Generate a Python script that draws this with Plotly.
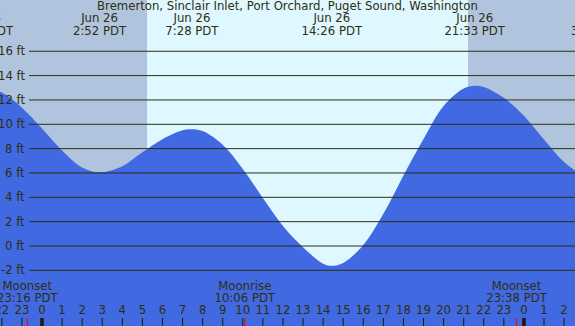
import plotly.graph_objects as go

# ---------------- data ----------------
title_text = "Bremerton, Sinclair Inlet, Port Orchard, Puget Sound, Washington"

tide_hours = [-3, -2, -1, 0, 1, 2, 2.867, 4, 5, 6, 7, 7.467, 8, 9, 10, 11, 12, 13, 14,
              14.433, 15, 16, 17, 18, 19, 20, 21, 21.55, 22, 23, 24, 25, 26, 27]
tide_feet = [12.98, 12.62, 11.37, 9.65, 7.85, 6.44, 6.05, 6.56, 7.70, 8.78, 9.51, 9.60, 9.44,
             8.31, 6.32, 3.95, 1.65, -0.10, -1.45, -1.62, -1.39, 0.08, 2.64, 5.80, 8.80,
             11.51, 12.95, 13.17, 13.07, 12.18, 10.70, 8.75, 6.90, 5.70]

extreme_hours = [-2.95, 2.867, 7.467, 14.433, 21.55, 27.67]
extreme_dates = ["Jun 25", "Jun 26", "Jun 26", "Jun 26", "Jun 26", "Jun 27"]
extreme_times = ["21:03 PDT", "2:52 PDT", "7:28 PDT", "14:26 PDT", "21:33 PDT", "3:40 PDT"]

moon_hours = [-0.733, 10.1, 23.633]
moon_events = ["Moonset", "Moonrise", "Moonset"]
moon_times = ["23:16 PDT", "10:06 PDT", "23:38 PDT"]

sunrise_hour = 5.233
sunset_hour = 21.217

hour_ticks = list(range(-2, 27))
hour_labels = [str(h % 24) for h in hour_ticks]
midnight_hours = [0, 24]

level_ticks = [-2, 0, 2, 4, 6, 8, 10, 12, 14, 16]
level_labels = [f"{v} ft" for v in level_ticks]

# ---------------- layout constants ----------------
W, H = 575, 326
X_RANGE = [-2.0916, 26.544]
Y_RANGE = [-6.574, 20.214]
NIGHT = "#B0C4DE"
DAY = "#DFF7FF"
FILL = "#4169E1"
INK = "#2e2e10"
FONT = "DejaVu Sans"
FSIZE = 11.7


def ypix(p):
    # vertical pixel row (from top) -> data value on the y axis
    return Y_RANGE[1] - p * (Y_RANGE[1] - Y_RANGE[0]) / H


fig = go.Figure()

# base for the fill
fig.add_trace(go.Scatter(x=[X_RANGE[0] - 2, X_RANGE[1] + 2], y=[Y_RANGE[0] - 5] * 2,
                         mode="lines", line=dict(width=0), hoverinfo="skip", showlegend=False))
fig.add_trace(go.Scatter(x=tide_hours, y=tide_feet, mode="lines",
                         line=dict(width=0, color=FILL, shape="spline", smoothing=1),
                         fill="tonexty", fillcolor=FILL, hoverinfo="skip", showlegend=False))

tfont = dict(family=FONT, size=FSIZE, color=INK)

# title
fig.add_trace(go.Scatter(x=[(X_RANGE[0] + X_RANGE[1]) / 2], y=[ypix(7.5)], mode="text",
                         text=[title_text], textfont=tfont, textposition="middle center",
                         hoverinfo="skip", showlegend=False))
# extreme labels
fig.add_trace(go.Scatter(x=extreme_hours, y=[ypix(19.5)] * len(extreme_hours), mode="text",
                         text=extreme_dates, textfont=tfont, textposition="middle center",
                         hoverinfo="skip", showlegend=False))
fig.add_trace(go.Scatter(x=extreme_hours, y=[ypix(32)] * len(extreme_hours), mode="text",
                         text=extreme_times, textfont=tfont, textposition="middle center",
                         hoverinfo="skip", showlegend=False))
# moon labels
fig.add_trace(go.Scatter(x=moon_hours, y=[ypix(287)] * len(moon_hours), mode="text",
                         text=moon_events, textfont=tfont, textposition="middle center",
                         hoverinfo="skip", showlegend=False))
fig.add_trace(go.Scatter(x=moon_hours, y=[ypix(299)] * len(moon_hours), mode="text",
                         text=moon_times, textfont=tfont, textposition="middle center",
                         hoverinfo="skip", showlegend=False))
# hour labels
fig.add_trace(go.Scatter(x=hour_ticks, y=[ypix(311.5)] * len(hour_ticks), mode="text",
                         text=hour_labels, textfont=tfont, textposition="middle center",
                         hoverinfo="skip", showlegend=False))

shapes = []
# day / night background
shapes.append(dict(type="rect", xref="x", yref="paper", x0=X_RANGE[0] - 1, x1=sunrise_hour,
                   y0=0, y1=1, fillcolor=NIGHT, line=dict(width=0), layer="below"))
shapes.append(dict(type="rect", xref="x", yref="paper", x0=sunrise_hour, x1=sunset_hour,
                   y0=0, y1=1, fillcolor=DAY, line=dict(width=0), layer="below"))
shapes.append(dict(type="rect", xref="x", yref="paper", x0=sunset_hour, x1=X_RANGE[1] + 1,
                   y0=0, y1=1, fillcolor=NIGHT, line=dict(width=0), layer="below"))
# level lines
for v in level_ticks:
    shapes.append(dict(type="line", xref="paper", yref="y", x0=29 / W, x1=1, y0=v, y1=v,
                       line=dict(color=INK, width=1), layer="above"))
# hour ticks
for h in hour_ticks:
    w = 3.5 if h in midnight_hours else 1
    shapes.append(dict(type="line", xref="x", yref="paper", x0=h, x1=h, y0=0, y1=8 / H,
                       line=dict(color="#1a1a00", width=w), layer="above"))
for h in moon_hours:
    shapes.append(dict(type="line", xref="x", yref="paper", x0=h, x1=h, y0=0, y1=8 / H,
                       line=dict(color="#ff0000", width=1), layer="above"))

annotations = []
for v, lab in zip(level_ticks, level_labels):
    annotations.append(dict(xref="paper", yref="y", x=27 / W, y=v, text=lab, showarrow=False,
                            xanchor="right", yanchor="middle", font=tfont))

fig.update_layout(
    width=W, height=H, margin=dict(l=0, r=0, t=0, b=0),
    paper_bgcolor=NIGHT, plot_bgcolor=NIGHT,
    xaxis=dict(range=X_RANGE, visible=False, fixedrange=True),
    yaxis=dict(range=Y_RANGE, visible=False, fixedrange=True),
    shapes=shapes, annotations=annotations, showlegend=False,
)

fig.write_html("out.html", config=dict(displayModeBar=False),
               post_script="document.body.style.margin='0';document.body.style.overflow='hidden';")
